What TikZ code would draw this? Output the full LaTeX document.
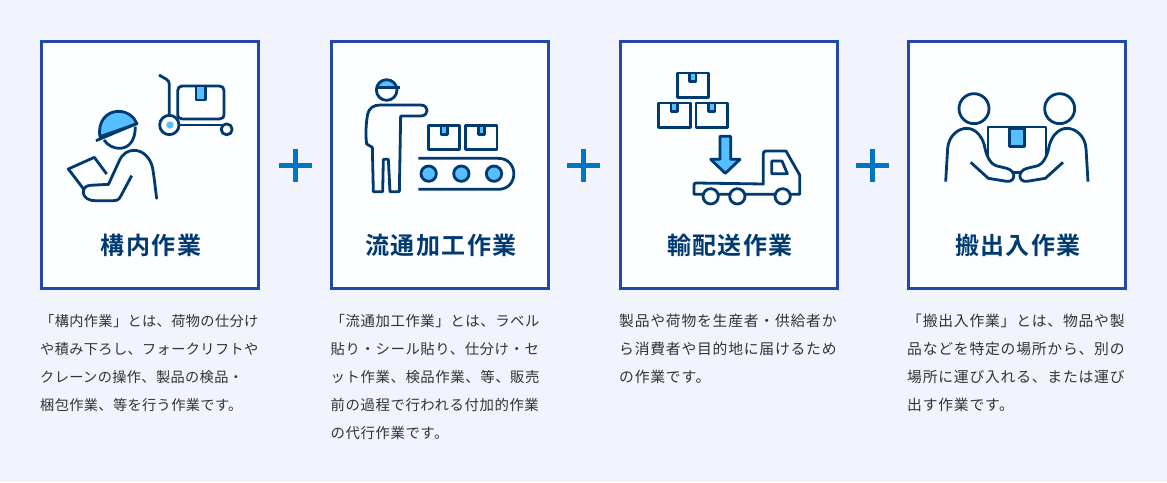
\documentclass[tikz,border=0pt]{standalone}
\usepackage{fontspec}
\newfontfamily\bodya[LetterSpace=2.6]{Noto Sans CJK JP}
\newfontfamily\bodyb[LetterSpace=3.9]{Noto Sans CJK JP}
\newfontfamily\bodyc[LetterSpace=5.3]{Noto Sans CJK JP}
\newfontfamily\titlef[LetterSpace=6.2]{Noto Sans CJK JP Bold}
\definecolor{navy}{HTML}{003A70}
\definecolor{sky}{HTML}{55BFFF}
\definecolor{frame}{HTML}{2049A8}
\definecolor{pagebg}{HTML}{F1F4FD}
\definecolor{cardbg}{HTML}{FDFEFF}
\definecolor{plusc}{HTML}{0075C2}
\definecolor{textc}{HTML}{333333}
\tikzset{
  card/.style={draw=frame,line width=3pt,fill=cardbg,minimum width=217pt,minimum height=247pt,inner sep=0pt,outer sep=0pt},
  title/.style={text=navy,font=\titlef\fontsize{24}{24}\selectfont,inner sep=0pt},
  para/.style={text=textc,inner sep=0pt,anchor=base west},
  paraa/.style={para,font=\bodya\fontsize{14.2}{14.2}\selectfont},
  parab/.style={para,font=\bodyb\fontsize{14.4}{14.4}\selectfont},
  parac/.style={para,font=\bodyc\fontsize{14.8}{14.8}\selectfont},
  plusarm/.style={draw=plusc,line width=5pt},
  ic/.style={draw=navy,line width=2.8pt,line join=round},
  icthin/.style={draw=navy,line width=2pt,line join=round},
  icon/.style={x=0.33333pt,y=-0.33333pt}
}
\begin{document}
\begin{tikzpicture}[x=1pt,y=-1pt]
\fill[pagebg] (0,0) rectangle (1167,482);
\useasboundingbox (0,0) rectangle (1167,482);
% cards
\node[card] (c1) at (150,165) {};
\node[card] (c2) at (440,165) {};
\node[card] (c3) at (729,165) {};
\node[card] (c4) at (1017,165) {};
% plus signs
\foreach \px in {295,583.5,872}{
  \draw[plusarm] (\px-16.5,165) -- (\px+16.5,165);
  \draw[plusarm] (\px,148.5) -- (\px,181.5);
}
% titles
\node[title] (t1) at (151,245) {構内作業};
\node[title] (t2) at (441,245) {流通加工作業};
\node[title] (t3) at (730,245) {輸配送作業};
\node[title] (t4) at (1018,245) {搬出入作業};
% paragraphs
\node[paraa] (p11) at (40,326) {「構内作業」とは、荷物の仕分け};
\node[paraa] (p12) at (40,354) {や積み下ろし、フォークリフトや};
\node[paraa] (p13) at (40,382) {クレーンの操作、製品の検品・};
\node[paraa] (p14) at (40,410) {梱包作業、等を行う作業です。};
\node[parab] (p21) at (330.5,326) {「流通加工作業」とは、ラベル};
\node[parab] (p22) at (330.5,354) {貼り・シール貼り、仕分け・セ};
\node[parab] (p23) at (330.5,382) {ット作業、検品作業、等、販売};
\node[parab] (p24) at (330.5,410) {前の過程で行われる付加的作業};
\node[parab] (p25) at (330.5,438) {の代行作業です。};
\node[parac] (p31) at (619,326) {製品や荷物を生産者・供給者か};
\node[parac] (p32) at (619,354) {ら消費者や目的地に届けるため};
\node[parac] (p33) at (619,382) {の作業です。};
\node[parac] (p41) at (907,326) {「搬出入作業」とは、物品や製};
\node[parac] (p42) at (907,354) {品などを特定の場所から、別の};
\node[parac] (p43) at (907,382) {場所に運び入れる、または運び};
\node[parac] (p44) at (907,410) {出す作業です。};
% icon 1
\begin{scope}[shift={(40,40)},icon]
\draw[ic,fill=sky] (180,290) .. controls (172,245) and (200,214) .. (235,214) .. controls (262,214) and (282,230) .. (291,251) -- cycle;
\draw[ic] (168,302) -- (292,250);
\draw[ic] (192,300) .. controls (203,316) and (220,325) .. (238,325) .. controls (266,325) and (286,303) .. (286,260);
\draw[ic,line cap=round] (205,434) -- (238,362) .. controls (248,340) and (265,331) .. (282,331) .. controls (310,331) and (332,355) .. (338,385) .. controls (343,415) and (346,445) .. (350,475);
\draw[ic] (275,407) -- (244,465) .. controls (238,478) and (232,482) .. (220,482) -- (165,482) .. controls (122,482) and (120,438) .. (150,436) -- (205,433);
\draw[ic] (200,402) -- (163,352) -- (85,387) -- (133,450);
\draw[ic] (357,105) -- (378,117) .. controls (386,122) and (388,126) .. (388,134) -- (388,226);
\draw[ic] (388,255) circle (29);
\fill[sky] (390,255) circle (11);
\draw[ic] (417,255) -- (545,255);
\draw[ic] (560,268) circle (16.5);
\draw[ic] (413,152) .. controls (413,143) and (418,138) .. (427,138) -- (538,138) .. controls (547,138) and (552,143) .. (552,152) -- (552,222) .. controls (552,232) and (547,237) .. (538,237) -- (427,237) .. controls (418,237) and (413,232) .. (413,222) -- cycle;
\draw[ic,fill=sky] (468,138) rectangle (497,180);
\end{scope}
% icon 2
\begin{scope}[shift={(330,40)},icon]
\fill[sky] (140,143) .. controls (142,128) and (155,120) .. (170,120) .. controls (186,120) and (198,128) .. (200,143) -- cycle;
\draw[ic] (170,150) circle (31);
\draw[ic] (138,143) -- (209,143);
\draw[ic] (130,455) -- (127,322) -- (110,312) .. controls (106,285) and (108,250) .. (113,222) .. controls (117,205) and (130,195) .. (150,195) -- (272,195) .. controls (298,195) and (298,228) .. (272,228) -- (212,228) -- (208,455) -- (180,455) -- (175,358) -- (160,358) -- (158,455) -- cycle;
\draw[ic] (295,257) rectangle (389,329);
\draw[ic] (406,257) rectangle (501,329);
\draw[ic,fill=sky] (333,257) rectangle (352,283);
\draw[ic,fill=sky] (445,257) rectangle (464,283);
\draw[ic] (265,355) -- (505,355) .. controls (567,355) and (567,448) .. (505,448) -- (265,448);
\draw[ic,fill=sky] (296,401) circle (23);
\draw[ic,fill=sky] (394,401) circle (23);
\draw[ic,fill=sky] (492,401) circle (23);
\end{scope}
% icon 3
\begin{scope}[shift={(620,40)},icon]
\draw[ic] (172,99) rectangle (266,172);
\draw[ic] (115,189) rectangle (211,262);
\draw[ic] (228,189) rectangle (323,262);
\draw[ic,fill=sky] (208,99) rectangle (228,125);
\draw[ic,fill=sky] (153,189) rectangle (173,215);
\draw[ic,fill=sky] (265,189) rectangle (285,215);
\draw[ic,fill=sky,miter limit=10] (300,289) -- (332,289) -- (332,358) -- (360,358) -- (316,400) -- (272,358) -- (300,358) -- cycle;
\draw[ic] (222,463) -- (222,436) .. controls (222,431) and (224,429) .. (229,429) -- (430,432) -- (430,342) .. controls (430,336) and (432,333) .. (438,333) -- (498,333) -- (539,405) -- (539,463) -- cycle;
\draw[ic] (455,363) -- (486,363) -- (502,401) -- (455,401) -- cycle;
\draw[ic,fill=cardbg] (272,469) circle (23);
\draw[ic,fill=cardbg] (352,469) circle (23);
\draw[ic,fill=cardbg] (488,469) circle (23);
\end{scope}
% icon 4
\begin{scope}[shift={(905,40)},icon]
\draw[ic] (207,206) circle (45);
\draw[ic] (464,206) circle (45);
\draw[icthin] (250,350) -- (250,262) -- (422,262) -- (422,350);
\draw[ic,fill=sky] (313,265) rectangle (358,320);
\draw[ic] (122,425) -- (128,325) .. controls (131,287) and (160,265) .. (185,265) .. controls (215,265) and (235,295) .. (240,325) .. controls (245,350) and (258,372) .. (272,377) -- (305,385) .. controls (335,393) and (332,427) .. (305,424) -- (250,415) -- (197,367);
\draw[ic] (549,425) -- (543,325) .. controls (540,287) and (511,265) .. (486,265) .. controls (456,265) and (436,295) .. (431,325) .. controls (426,350) and (413,372) .. (399,377) -- (366,385) .. controls (336,393) and (339,427) .. (366,424) -- (421,415) -- (474,367);
\draw[ic] (325,397) -- (346,397);
\end{scope}
\end{tikzpicture}
\end{document}
